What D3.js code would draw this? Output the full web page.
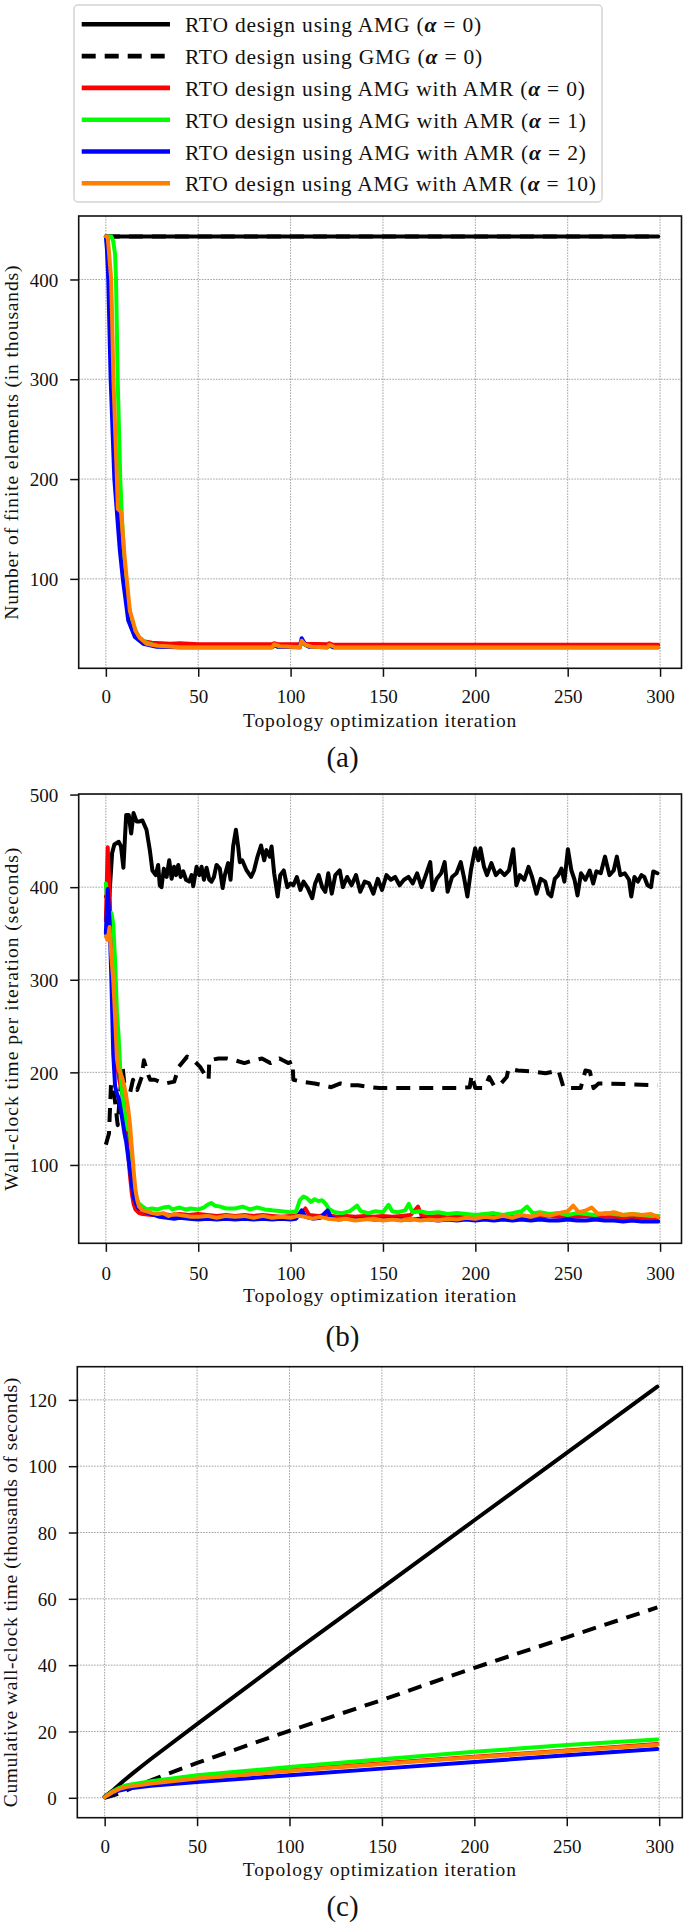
<!DOCTYPE html>
<html><head><meta charset="utf-8">
<script src="https://cdn.jsdelivr.net/npm/d3@7"></script>
<style>body{margin:0;background:#fff} svg{display:block} svg text{font-family:"Liberation Serif","DejaVu Serif",serif}</style>
</head><body>
<svg id="chart" width="685" height="1928"></svg>
<script>
// ---------------- DATA ----------------
const iterTicks = [0, 50, 100, 150, 200, 250, 300];
const elemTicks = [100, 200, 300, 400];
const timeTicks = [100, 200, 300, 400, 500];
const cumTicks = [0, 20, 40, 60, 80, 100, 120];

const legendNames = [
  "RTO design using AMG",
  "RTO design using GMG",
  "RTO design using AMG with AMR",
  "RTO design using AMG with AMR",
  "RTO design using AMG with AMR",
  "RTO design using AMG with AMR"
];
const legendAlpha = ["0", "0", "0", "1", "2", "10"];

// (a) number of finite elements (thousands) vs iteration
const elemAMG = [[0,443],[299,443]];
const elemGMG = [[0,443],[299,443]];
const elemAMR0 = [[0,443],[1,440],[2,400],[3,330],[4,270],[5,220],[6,185],[7,165],[8,150],[9,130],[10,110],[11,92],[12,76],[14,58],[16,46],[18,40],[20,37.5],[25,36],[35,35],[40,35.5],[50,34.5],[90,34.5],[91,35.5],[93,34.5],[105,34.5],[106,38],[108,35],[120,34.5],[121,35.5],[123,34],[299,34]];
const elemAMR1 = [[0,443],[3,443],[4,438],[5,425],[5.5,400],[6.4,300],[7.8,200],[8.5,169],[10.5,100],[12,75],[13.8,58],[17.7,42],[22,36],[28,32.5],[40,31.5],[90,31.5],[91,33.5],[93,32],[105,31.5],[106,37],[108,33.5],[110,32],[120,31.5],[121,33],[123,31.5],[299,31.5]];
const elemAMR2 = [[0,443],[0.6,430],[1.3,400],[2.6,300],[4.6,200],[5.9,169],[7.5,130],[9.2,100],[12.1,58.5],[15.7,41.8],[20.2,35],[27.5,32],[40,31.5],[90,31.5],[91,34],[93,32],[105,31.5],[106,40.5],[108,34],[110,32],[120,31.5],[121,33.5],[123,31.5],[299,31.5]];
const elemAMR10 = [[0,443],[1,443],[2,420],[2.9,400],[4.1,300],[6,200],[6.5,170],[8.3,167],[9,150],[10,125],[11.3,100],[13,68],[14.6,58],[16,48],[18.3,41],[22,35],[28,33],[40,31.5],[90,31.5],[91,34.5],[94,32.5],[105,31.5],[106,38],[108,34],[111,32],[120,31.5],[121,34],[124,31.5],[299,31.5]];

// (b) wall-clock time per iteration (seconds)
const timeAMG = [[0,390],[1.9,390],[3.4,437],[4.6,446],[7.0,449],[8.2,444],[9.5,421],[11.0,478],[12.4,478],[13.7,458],[15.0,480],[16.6,471],[18.3,471],[19.8,472],[22.0,462],[23.8,440],[25.2,418],[27.0,413],[28.3,424],[29.2,402],[30.1,400],[31.4,420],[32.9,411],[34.3,429],[35.6,409],[36.9,422],[38.0,413],[39.2,424],[40.5,411],[41.9,417],[43.4,408],[45.1,406],[46.4,413],[47.3,401],[49.1,422],[50.6,413],[51.8,422],[53.1,408],[54.5,421],[56.0,408],[57.2,406],[58.5,411],[59.9,424],[61.7,420],[63.2,399],[64.4,413],[66.2,426],[67.5,408],[68.9,444],[70.4,462],[71.6,444],[72.5,427],[73.8,429],[76.2,418],[78.6,411],[80.2,418],[82.1,433],[84.0,445],[85.7,429],[86.9,440],[88.7,433],[89.7,444],[91.1,415],[93.0,390],[94.4,413],[96.3,418],[98.2,400],[99.9,404],[101.5,402],[103.4,411],[105.3,397],[107.0,406],[109.3,399],[111.7,388],[113.3,404],[115.2,413],[117.1,400],[118.8,395],[120.4,415],[122.3,393],[124.2,413],[126.6,418],[128.3,400],[130.6,411],[133.0,402],[135.4,413],[137.7,395],[140.1,406],[142.5,404],[144.8,393],[147.2,409],[149.5,397],[151.9,413],[154.3,408],[156.6,411],[159.0,402],[161.4,408],[163.8,411],[166.1,404],[168.5,415],[170.9,400],[173.2,413],[175.6,427],[176.8,397],[179.1,409],[181.5,415],[183.4,427],[185.0,395],[187.4,411],[189.8,415],[192.1,427],[193.8,411],[195.7,390],[197.6,418],[199.9,442],[201.6,429],[202.8,442],[204.7,422],[206.3,413],[208.7,426],[211.1,413],[213.4,418],[215.8,413],[218.2,418],[220.5,441],[222.2,402],[224.1,413],[226.5,408],[228.8,422],[230.7,411],[233.1,393],[235.4,409],[237.8,406],[239.5,393],[241.1,390],[243.0,409],[244.9,413],[246.6,420],[248.2,406],[250.1,441],[252.0,418],[253.7,408],[255.3,391],[257.2,415],[259.6,408],[261.9,418],[263.8,404],[265.5,417],[267.9,415],[270.2,433],[272.6,413],[274.9,418],[276.6,433],[278.5,413],[280.9,415],[283.2,408],[284.4,390],[286.1,411],[288.0,406],[289.9,413],[291.5,411],[293.2,402],[295.1,400],[296.3,417],[298.6,415]];
const timeGMG = [[0,122],[1.7,134],[2.8,188],[4.5,177],[6.4,143],[7.6,177],[9.2,204],[11,167],[13,177],[14.7,192],[17,181],[19.4,195],[20.6,213],[23,197],[24,192],[26.5,192],[29,190],[32.4,188],[37,190],[39.5,206],[44,217],[48,212],[51,206],[53.7,197],[55.6,192],[56,213],[61,215],[65.5,215],[70,213],[75,210],[80,213],[84.5,215],[89,210],[94,215],[98.7,210],[101,212],[101.5,192],[105.8,190],[113,188],[117.6,186],[122,184],[127,188],[132,186],[136.5,186],[143.6,184],[148,183],[155,183],[167,183],[179,183],[191,183],[197,184],[198,197],[200,183],[204,183],[206,188],[207.5,195],[210,186],[213,186],[217,195],[218,204],[223,202],[231,201],[238,199],[245,202],[247.7,184],[250,183],[257,183],[259.6,202],[262,201],[264,183],[266.7,188],[271,188],[285.6,187],[298.6,186]];
const timeAMR0 = [[0,364],[1,443],[2,395],[3,330],[4,275],[5,235],[6,210],[7,195],[8,185],[9,175],[10,160],[11,140],[12,115],[13,90],[14,70],[15,58],[16,52],[18,48],[20,47],[25,46],[30,47],[35,46],[40,47],[45,46],[50,47],[55,46],[60,45],[65,46],[70,45],[75,46],[80,45],[85,46],[90,45],[95,44],[100,45],[105,46],[108,53],[110,46],[115,45],[120,46],[125,44],[130,45],[135,44],[140,45],[145,44],[150,45],[155,44],[160,45],[165,46],[169,55],[171,45],[175,44],[180,45],[185,44],[190,45],[195,44],[200,44],[205,45],[210,44],[215,45],[220,44],[225,45],[230,44],[235,44],[240,45],[245,44],[250,45],[255,44],[260,45],[265,44],[270,44],[275,44],[280,43],[285,43],[290,43],[295,43],[299,43]];
const timeAMR1 = [[0,404],[1,380],[2,372],[3,372],[4,360],[5,320],[6,265],[7,235],[8,195],[9,175],[10,160],[11,145],[12,138],[13,138],[14,110],[15,84],[16,70],[17,62],[18,58],[20,55],[22,52],[25,53],[28,52],[31,54],[34,55],[36,52],[40,54],[43,52],[46,53],[50,52],[53,54],[55,57],[57,59],[59,56],[62,55],[65,53],[70,53],[74,55],[78,52],[82,54],[86,52],[90,51],[95,50],[100,49],[103,50],[105,62],[107,66],[109,64],[111,60],[113,63],[115,61],[117,62],[119,58],[121,52],[124,49],[128,48],[132,50],[136,56],[138,50],[142,48],[146,50],[150,49],[153,57],[155,50],[158,49],[162,51],[164,58],[166,49],[170,50],[175,48],[180,49],[185,47],[190,48],[195,47],[200,46],[205,47],[210,48],[215,46],[220,48],[225,50],[228,55],[231,48],[235,49],[240,47],[245,48],[250,46],[255,48],[260,47],[265,46],[270,48],[275,47],[280,46],[285,47],[290,46],[295,45],[299,45]];
const timeAMR2 = [[0,350],[1,398],[2,364],[3,300],[4,220],[5,185],[6,177],[7,172],[8,160],[9,148],[10,135],[11,125],[12,110],[13,95],[14,80],[15,65],[16,60],[17,55],[18,53],[20,51],[23,48],[26,46],[29,44],[33,43],[37,42],[40,43],[45,42],[50,41],[55,42],[60,41],[65,42],[70,41],[75,42],[80,41],[85,42],[90,41],[95,42],[100,41],[103,42],[106,51],[108,44],[112,42],[116,43],[120,51],[122,43],[126,41],[130,42],[135,41],[140,42],[145,41],[150,41],[155,42],[160,41],[165,41],[170,42],[175,41],[180,40],[185,41],[190,40],[195,41],[200,40],[205,41],[210,40],[215,41],[220,40],[225,41],[230,40],[235,41],[240,40],[245,40],[250,41],[255,40],[260,40],[265,41],[270,40],[275,40],[280,39],[285,40],[290,39],[295,39],[299,39]];
const timeAMR10 = [[0,347],[1,343],[2,357],[3,325],[4,300],[5,260],[6,215],[7,202],[8,199],[9,193],[10,185],[11,174],[12,162],[13,145],[14,120],[15,95],[16,73],[17,62],[18,55],[20,51],[22,50],[25,48],[28,47],[31,48],[34,45],[37,47],[40,46],[43,45],[46,44],[50,44],[55,45],[60,43],[65,45],[70,44],[75,45],[80,43],[85,45],[90,43],[95,44],[100,43],[104,45],[108,44],[112,42],[116,44],[120,42],[125,41],[130,42],[135,40],[140,41],[145,42],[150,40],[155,41],[160,40],[165,42],[170,40],[175,41],[180,40],[185,42],[190,41],[195,43],[200,42],[205,44],[210,43],[215,45],[220,43],[225,46],[230,44],[235,47],[240,45],[245,48],[250,50],[253,56],[256,49],[260,51],[263,54],[266,48],[270,47],[275,49],[280,46],[285,47],[290,46],[295,47],[299,44]];

// (c) cumulative wall-clock time (thousands of seconds)
const cumAMG = [[0,0.4],[5,2.5],[10,5.0],[15,7.3],[20,9.5],[25,11.7],[50,22.2],[100,43.0],[150,63.3],[200,83.7],[250,104.0],[299,124.0]];
const cumGMG = [[0,0],[8,1.3],[19,4.0],[33,7.0],[50,10.5],[73,15.0],[100,20.2],[150,29.5],[200,39.2],[250,48.4],[299,57.4]];
const cumAMR0 = [[0,0.2],[4,1.8],[8,2.9],[12,3.4],[16,3.7],[25,4.4],[50,5.9],[100,8.3],[150,10.4],[200,12.4],[250,14.3],[299,16.2]];
const cumAMR1 = [[0,0.2],[4,1.8],[8,3.0],[12,3.8],[16,4.2],[25,5.0],[50,6.8],[100,9.3],[150,11.6],[200,13.9],[250,15.9],[299,17.6]];
const cumAMR2 = [[0,0.2],[4,1.3],[8,2.2],[12,2.7],[16,3.0],[25,3.6],[50,4.8],[100,6.8],[150,8.8],[200,10.8],[250,12.8],[299,14.7]];
const cumAMR10 = [[0,0.2],[4,1.6],[8,2.7],[12,3.3],[16,3.6],[25,4.3],[50,5.8],[100,8.1],[150,10.2],[200,12.2],[250,14.1],[299,16.0]];

// ---------------- STYLE ----------------
const INK = "#111";
const colors = ["#000000", "#000000", "#ff0000", "#00ff00", "#0000ff", "#ff8000"];
const dashes = [null, "14,9", null, null, null, null];
const LW = 4;

const svg = d3.select("#chart");

function fitWidth(sel, target) {
  const node = sel.node();
  const w = node.getComputedTextLength();
  const n = node.textContent.length;
  if (n > 1) sel.style("letter-spacing", ((target - w) / n) + "px");
}
function styleText(sel, size) {
  return sel.style("font-family", '"Liberation Serif", "DejaVu Serif", serif')
    .style("font-size", size + "px").attr("fill", INK);
}

function panel(cfg) {
  const x = d3.scaleLinear().domain(cfg.xDomain).range(cfg.xRange);
  const y = d3.scaleLinear().domain(cfg.yDomain).range(cfg.yRange);
  const [x0, x1] = cfg.xRange;
  const [yb, yt] = cfg.yRange;
  const g = svg.append("g");

  // grid
  g.append("g").selectAll("line").data(iterTicks).join("line")
    .attr("x1", d => x(d)).attr("x2", d => x(d)).attr("y1", yt).attr("y2", yb)
    .attr("stroke", "#8a8a8a").attr("stroke-width", 0.8).attr("stroke-dasharray", "1.6,1.2");
  g.append("g").selectAll("line").data(cfg.yTicks).join("line")
    .attr("x1", x0).attr("x2", x1).attr("y1", d => y(d)).attr("y2", d => y(d))
    .attr("stroke", "#8a8a8a").attr("stroke-width", 0.8).attr("stroke-dasharray", "1.6,1.2");

  // series
  const line = d3.line().x(d => x(d[0])).y(d => y(d[1]));
  cfg.series.forEach((s, i) => {
    g.append("path").datum(s).attr("d", line)
      .attr("fill", "none").attr("stroke", colors[i]).attr("stroke-width", LW)
      .attr("stroke-linejoin", "round")
      .attr("stroke-linecap", dashes[i] ? "butt" : "round")
      .attr("stroke-dasharray", dashes[i]);
  });

  // frame
  g.append("rect").attr("x", x0).attr("y", yt).attr("width", x1 - x0).attr("height", yb - yt)
    .attr("fill", "none").attr("stroke", INK).attr("stroke-width", 1.6);

  // axes
  const xa = g.append("g").attr("transform", `translate(0,${yb})`)
    .call(d3.axisBottom(x).tickValues(iterTicks).tickSize(8.5).tickFormat(d3.format("d")));
  xa.attr("font-family", null).attr("font-size", null);
  xa.select(".domain").remove();
  xa.selectAll(".tick line").attr("stroke", INK).attr("stroke-width", 1.5);
  styleText(xa.selectAll(".tick text").attr("y", cfg.xTickOff).attr("dy", "0.35em"), 19);

  const ya = g.append("g").attr("transform", `translate(${x0},0)`)
    .call(d3.axisLeft(y).tickValues(cfg.yTicks).tickSize(8.5).tickFormat(d3.format("d")));
  ya.attr("font-family", null).attr("font-size", null);
  ya.select(".domain").remove();
  ya.selectAll(".tick line").attr("stroke", INK).attr("stroke-width", 1.5);
  styleText(ya.selectAll(".tick text").attr("x", -20.5).attr("dy", "0.35em"), 19);

  // labels
  const xl = styleText(g.append("text").attr("x", (x0 + x1) / 2).attr("y", cfg.xLabelY)
    .attr("text-anchor", "middle"), 19.5).text("Topology optimization iteration");
  fitWidth(xl, 274);
  const yl = styleText(g.append("text")
    .attr("transform", `translate(${cfg.yLabelX},${(yb + yt) / 2}) rotate(-90)`)
    .attr("text-anchor", "middle"), 19.5).text(cfg.yLabel);
  fitWidth(yl, cfg.yLabelW);

  styleText(svg.append("text").attr("x", 342.5).attr("y", cfg.capY).attr("text-anchor", "middle"), 29)
    .text(cfg.cap);
}

panel({
  xDomain: [-14.7, 311.6], xRange: [78.7, 681.5],
  yDomain: [10.4, 463.6], yRange: [668.3, 216],
  yTicks: elemTicks,
  series: [elemAMG, elemGMG, elemAMR0, elemAMR1, elemAMR2, elemAMR10],
  xTickOff: 28.4, xLabelY: 727, yLabelX: 18, yLabelW: 355,
  yLabel: "Number of finite elements (in thousands)",
  capY: 767, cap: "(a)"
});
panel({
  xDomain: [-14.7, 311.6], xRange: [78.7, 681.5],
  yDomain: [15.4, 500.6], yRange: [1243.3, 794],
  yTicks: timeTicks,
  series: [timeAMG, timeGMG, timeAMR0, timeAMR1, timeAMR2, timeAMR10],
  xTickOff: 29.6, xLabelY: 1302, yLabelX: 18, yLabelW: 344,
  yLabel: "Wall-clock time per iteration (seconds)",
  capY: 1346, cap: "(b)"
});
panel({
  xDomain: [-14.8, 312.5], xRange: [77.3, 682.3],
  yDomain: [-6.0, 130.0], yRange: [1817.7, 1366.7],
  yTicks: cumTicks,
  series: [cumAMG, cumGMG, cumAMR0, cumAMR1, cumAMR2, cumAMR10],
  xTickOff: 28.8, xLabelY: 1875.5, yLabelX: 17, yLabelW: 430,
  yLabel: "Cumulative wall-clock time (thousands of seconds)",
  capY: 1916, cap: "(c)"
});

// legend
const lg = svg.append("g");
lg.append("rect").attr("x", 74).attr("y", 5).attr("width", 528).attr("height", 197).attr("rx", 4)
  .attr("fill", "#fff").attr("stroke", "#d4d4d4").attr("stroke-width", 1.5);
const legendW = [297, 298, 400.7, 401.7, 401.7, 411.7];
legendNames.forEach((name, i) => {
  const yy = 24.3 + i * 31.8;
  lg.append("line").attr("x1", 81.7).attr("x2", 170).attr("y1", yy).attr("y2", yy)
    .attr("stroke", colors[i]).attr("stroke-width", 4.6)
    .attr("stroke-dasharray", dashes[i]);
  const t = styleText(lg.append("text").attr("x", 185).attr("y", yy + 8), 21.5);
  t.append("tspan").text(name + " (");
  t.append("tspan").style("font-style", "italic").style("font-weight", "bold").text("α");
  t.append("tspan").text(" = " + legendAlpha[i] + ")");
  fitWidth(t, legendW[i]);
});
</script></body></html>
